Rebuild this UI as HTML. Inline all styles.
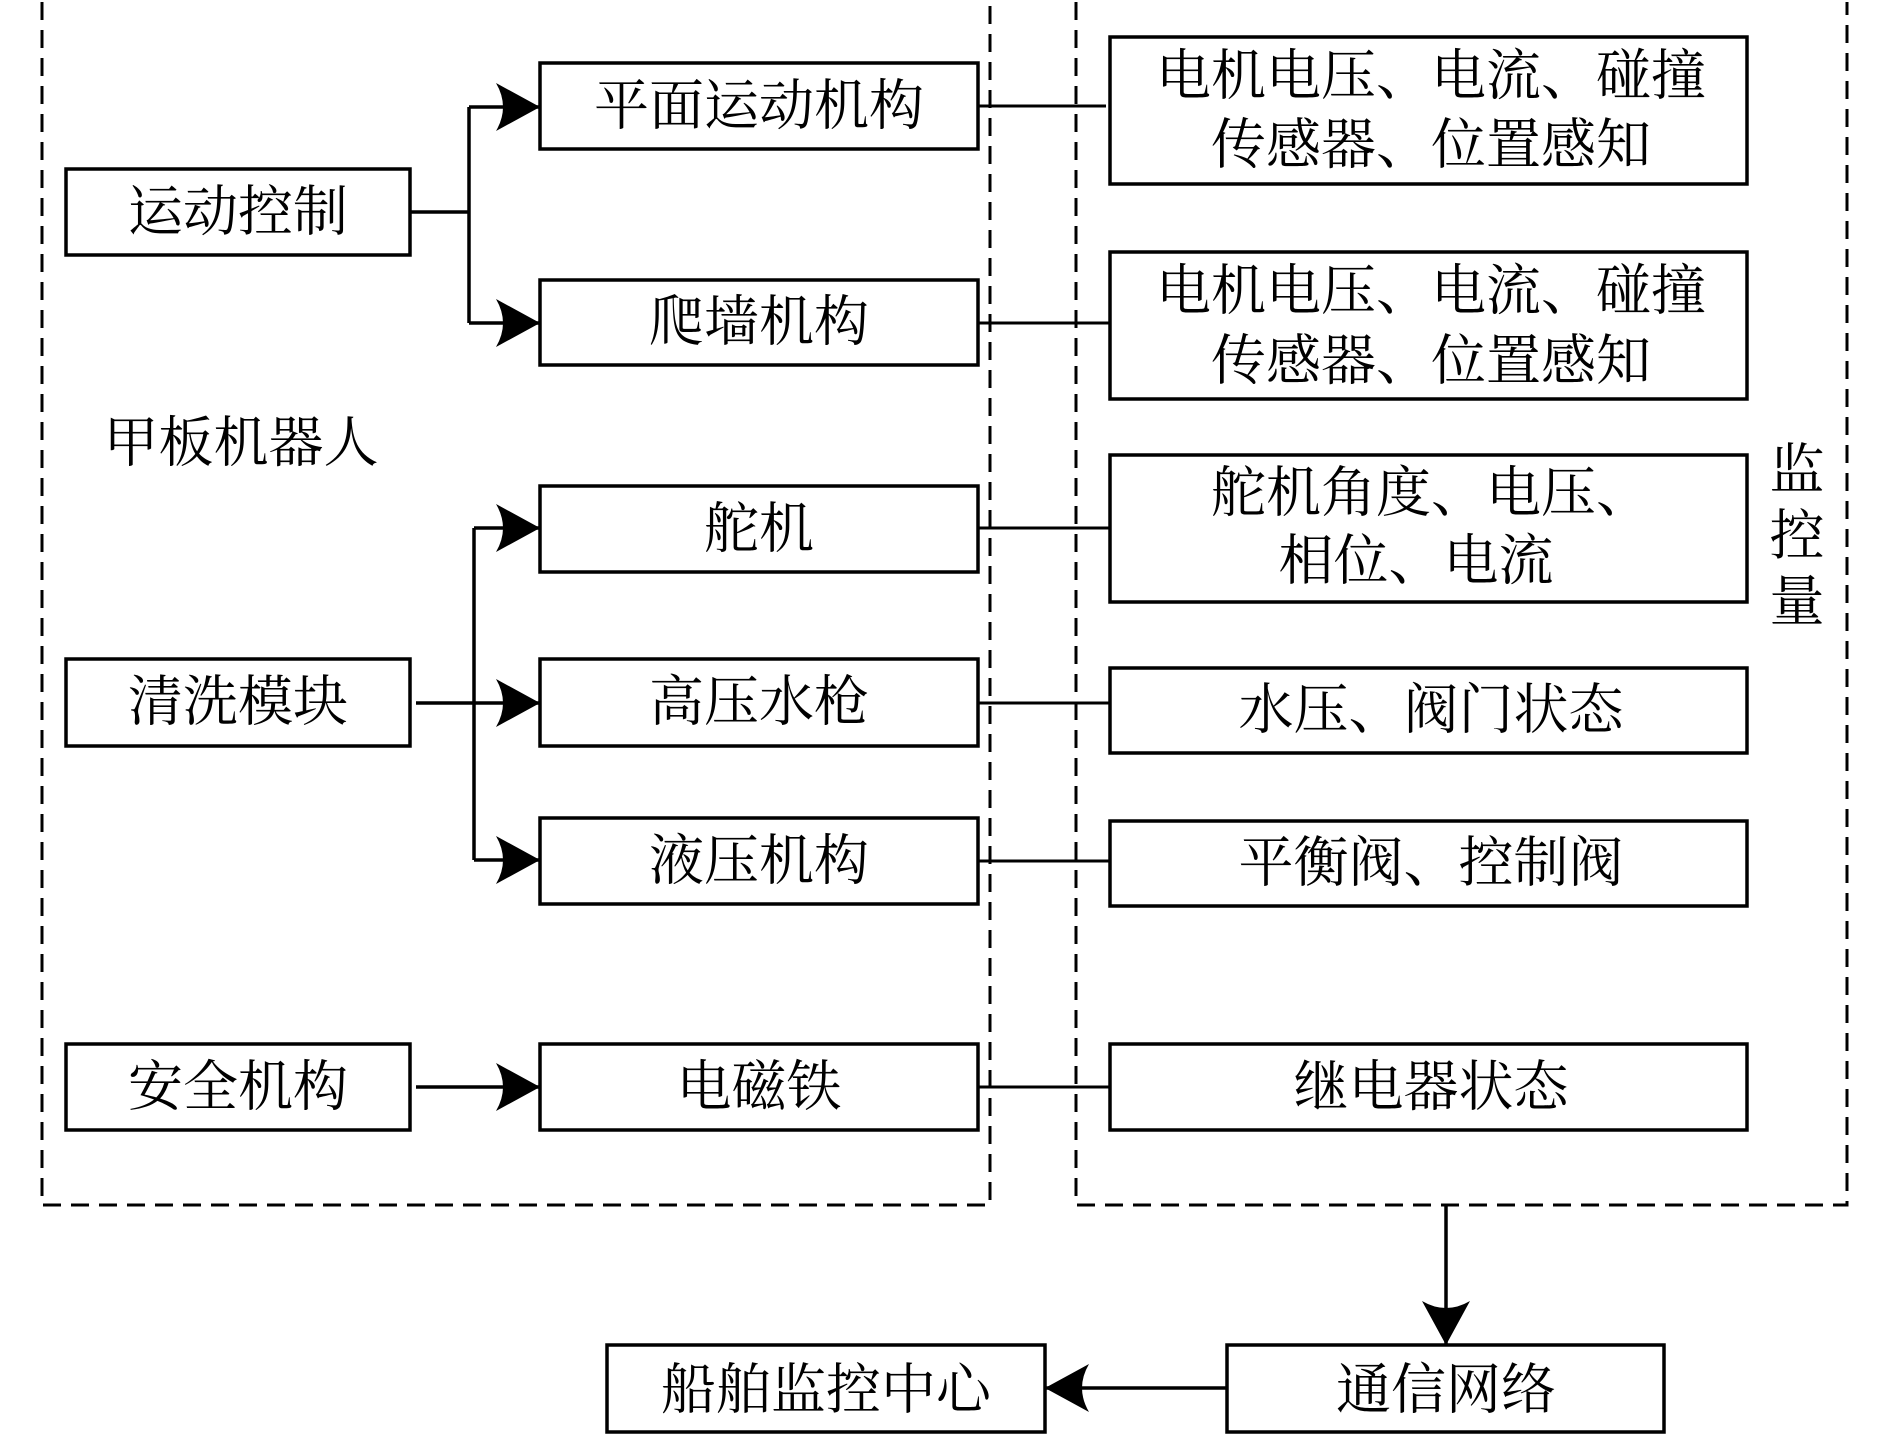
<!DOCTYPE html>
<html><head><meta charset="utf-8"><style>
html,body{margin:0;padding:0;background:#fff;}
svg text{font-family:"Liberation Serif","Noto Serif CJK SC",serif;font-size:55px;fill:#000;text-anchor:middle;dominant-baseline:central;}
</style></head><body>
<svg width="1890" height="1434" viewBox="0 0 1890 1434" xmlns="http://www.w3.org/2000/svg">
<defs>
<marker id="ah" markerWidth="46" markerHeight="52" refX="44" refY="26" orient="auto" markerUnits="userSpaceOnUse">
<path d="M0,2 Q14,26 0,50 L44,26 Z" fill="#000"/>
</marker>
</defs>
<g fill="none" stroke="#000" stroke-width="3" stroke-dasharray="18,10">
<path d="M42,2 L42,1205 L990,1205 L990,2"/>
<path d="M1076,2 L1076,1205 L1847,1205 L1847,2"/>
</g>
<g fill="#fff" stroke="#000" stroke-width="3.5">
<rect x="66" y="169" width="344" height="86"/>
<rect x="66" y="659" width="344" height="87"/>
<rect x="66" y="1044" width="344" height="86"/>
<rect x="540" y="63" width="438" height="86"/>
<rect x="540" y="280" width="438" height="85"/>
<rect x="540" y="486" width="438" height="86"/>
<rect x="540" y="659" width="438" height="87"/>
<rect x="540" y="818" width="438" height="86"/>
<rect x="540" y="1044" width="438" height="86"/>
<rect x="1110" y="37" width="637" height="147"/>
<rect x="1110" y="252" width="637" height="147"/>
<rect x="1110" y="455" width="637" height="147"/>
<rect x="1110" y="668" width="637" height="85"/>
<rect x="1110" y="821" width="637" height="85"/>
<rect x="1110" y="1044" width="637" height="86"/>
<rect x="607" y="1345" width="438" height="87"/>
<rect x="1227" y="1345" width="437" height="87"/>
</g>
<g fill="none" stroke="#000" stroke-width="3.5">
<path d="M410,212 L469,212 M469,107 L469,323"/>
<path d="M469,107 L540,107" marker-end="url(#ah)"/>
<path d="M469,323 L540,323" marker-end="url(#ah)"/>
<path d="M416,703 L540,703" marker-end="url(#ah)"/>
<path d="M474,528 L474,860"/>
<path d="M474,528 L540,528" marker-end="url(#ah)"/>
<path d="M474,860 L540,860" marker-end="url(#ah)"/>
<path d="M416,1087 L540,1087" marker-end="url(#ah)"/>
<path d="M1446,1205 L1446,1345" marker-end="url(#ah)"/>
<path d="M1227,1388 L1045,1388" marker-end="url(#ah)"/>
</g>
<g stroke="#000" stroke-width="3">
<path d="M978,106 L1106,106 M978,323 L1110,323 M978,528 L1110,528 M978,703 L1110,703 M978,861 L1110,861 M978,1087 L1110,1087"/>
</g>
<text x="238" y="212">运动控制</text>
<text x="238" y="702">清洗模块</text>
<text x="238" y="1087">安全机构</text>
<text x="241" y="443">甲板机器人</text>
<text x="759" y="106">平面运动机构</text>
<text x="759" y="322">爬墙机构</text>
<text x="759" y="529">舵机</text>
<text x="759" y="702">高压水枪</text>
<text x="759" y="861">液压机构</text>
<text x="759" y="1087">电磁铁</text>
<text x="1431" y="76">电机电压、电流、碰撞</text>
<text x="1431" y="145">传感器、位置感知</text>
<text x="1431" y="291">电机电压、电流、碰撞</text>
<text x="1431" y="361">传感器、位置感知</text>
<text x="1431" y="493">舵机角度、电压、</text>
<text x="1416" y="561">相位、电流</text>
<text x="1431" y="710">水压、阀门状态</text>
<text x="1431" y="863">平衡阀、控制阀</text>
<text x="1431" y="1087">继电器状态</text>
<text x="1797" y="470">监</text>
<text x="1797" y="536">控</text>
<text x="1797" y="602">量</text>
<text x="826" y="1390">船舶监控中心</text>
<text x="1446" y="1390">通信网络</text>
</svg>
</body></html>
